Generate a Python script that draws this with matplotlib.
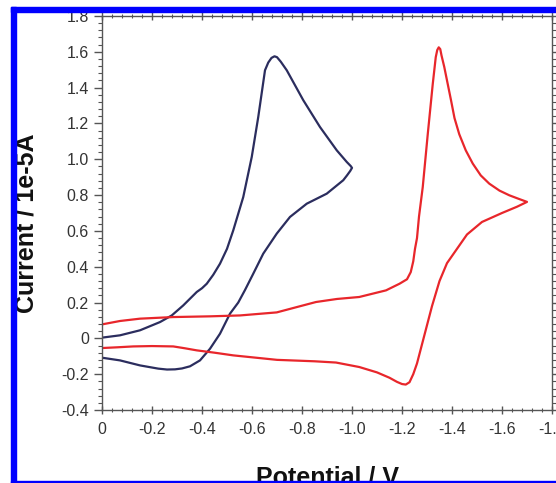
import matplotlib.pyplot as plt
from matplotlib.patches import Rectangle
from matplotlib.ticker import MultipleLocator, FuncFormatter

plt.rcParams['font.family'] = ['Liberation Sans', 'DejaVu Sans']

# blue trace: forward scan (0 -> -1.0 V) then back
blue_fwd_x = [0, -0.072, -0.152, -0.232, -0.279, -0.325, -0.379, -0.40, -0.419, -0.445, -0.472,
              -0.50, -0.525, -0.565, -0.599, -0.625, -0.652, -0.665, -0.678, -0.69, -0.70, -0.715,
              -0.739, -0.805, -0.872, -0.939, -0.979, -0.995, -1.0]
blue_fwd_y = [0.004, 0.017, 0.045, 0.091, 0.128, 0.184, 0.259, 0.28, 0.305, 0.355, 0.417,
              0.50, 0.603, 0.789, 1.013, 1.236, 1.497, 1.54, 1.566, 1.575, 1.57, 1.545,
              1.497, 1.33, 1.18, 1.05, 0.985, 0.962, 0.952]
blue_rev_x = [-1.0, -0.993, -0.98, -0.965, -0.899, -0.819, -0.752, -0.699, -0.645, -0.605, -0.572,
              -0.545, -0.512, -0.472, -0.432, -0.392, -0.352, -0.32, -0.292, -0.26, -0.225,
              -0.152, -0.072, 0]
blue_rev_y = [0.952, 0.935, 0.91, 0.883, 0.808, 0.752, 0.678, 0.585, 0.473, 0.361, 0.27,
              0.20, 0.138, 0.026, -0.058, -0.123, -0.156, -0.168, -0.173, -0.174, -0.169,
              -0.151, -0.123, -0.108]

# red trace: forward scan (0 -> -1.7 V) then back
red_fwd_x = [0, -0.072, -0.152, -0.285, -0.432, -0.552, -0.699, -0.78, -0.856, -0.94, -1.029,
             -1.136, -1.19, -1.22, -1.235, -1.245, -1.252, -1.26, -1.268, -1.283, -1.303, -1.323,
             -1.335, -1.341, -1.347, -1.353, -1.358, -1.369, -1.396, -1.41, -1.429, -1.455,
             -1.483, -1.515, -1.549, -1.59, -1.629, -1.665, -1.70]
red_fwd_y = [0.078, 0.097, 0.110, 0.119, 0.123, 0.128, 0.145, 0.175, 0.203, 0.22, 0.231,
             0.268, 0.305, 0.33, 0.37, 0.43, 0.50, 0.56, 0.68, 0.845, 1.14, 1.42,
             1.57, 1.61, 1.625, 1.615, 1.58, 1.516, 1.33, 1.23, 1.14, 1.05,
             0.976, 0.91, 0.864, 0.825, 0.799, 0.78, 0.762]
red_rev_x = [-1.70, -1.66, -1.60, -1.52, -1.46, -1.42, -1.38, -1.35, -1.32, -1.29, -1.26, -1.245,
             -1.23, -1.215, -1.20, -1.18, -1.15, -1.10, -1.029, -0.936, -0.85, -0.70, -0.525,
             -0.45, -0.379, -0.33, -0.285, -0.2, -0.125, -0.06, 0]
red_rev_y = [0.762, 0.735, 0.70, 0.65, 0.58, 0.50, 0.42, 0.32, 0.18, 0.02, -0.14, -0.20,
             -0.245, -0.258, -0.255, -0.243, -0.22, -0.19, -0.16, -0.135, -0.128, -0.12, -0.095,
             -0.08, -0.067, -0.055, -0.045, -0.043, -0.045, -0.05, -0.054]

x_ticks = [0, -0.2, -0.4, -0.6, -0.8, -1.0, -1.2, -1.4, -1.6, -1.8]
y_ticks = [-0.4, -0.2, 0, 0.2, 0.4, 0.6, 0.8, 1.0, 1.2, 1.4, 1.6, 1.8]

blue = '#2b2d5e'
red = '#e8262b'

fig, ax = plt.subplots(figsize=(5.56, 4.83), dpi=100)
fig.subplots_adjust(left=102/556, right=552/556, bottom=73/483, top=467/483)

ax.plot(blue_fwd_x + blue_rev_x, blue_fwd_y + blue_rev_y, color=blue, lw=1.6,
        solid_joinstyle='round')
ax.plot(red_fwd_x + red_rev_x, red_fwd_y + red_rev_y, color=red, lw=1.6,
        solid_joinstyle='round')

ax.set_xlim(0, -1.8)
ax.set_ylim(-0.4, 1.8)
ax.set_xticks(x_ticks)
ax.set_yticks(y_ticks)
ax.xaxis.set_minor_locator(MultipleLocator(0.04))
ax.yaxis.set_minor_locator(MultipleLocator(0.04))

fmt = FuncFormatter(lambda v, p: '0' if abs(v) < 1e-9 else f'{v:.1f}')
ax.xaxis.set_major_formatter(fmt)
ax.yaxis.set_major_formatter(fmt)

for s in ax.spines.values():
    s.set_color('#555555')
    s.set_linewidth(1)

ax.tick_params(axis='y', which='both', direction='out', left=True, right=True,
               colors='#555555', labelcolor='#333333', labelsize=11.5)
ax.tick_params(axis='x', which='both', direction='inout', bottom=True, top=True,
               colors='#555555', labelcolor='#333333', labelsize=11.5, pad=6)
ax.tick_params(which='major', length=6, width=1)
ax.tick_params(which='minor', length=3, width=0.8)

ax.set_xlabel('Potential / V', fontsize=18, fontweight='bold', color='#111111')
ax.set_ylabel('Current / 1e-5A', fontsize=18, fontweight='bold', color='#111111')
ax.xaxis.set_label_coords(0.5, -0.142)
ax.yaxis.set_label_coords(-0.142, 0.473)

# blue frame around the figure (cropped on the right)
frame = '#0000ff'
fig.add_artist(Rectangle((11/556, 0), 5/556, 476/483, transform=fig.transFigure,
                         color=frame, zorder=10))
fig.add_artist(Rectangle((11/556, 471/483), 1, 5/483, transform=fig.transFigure,
                         color=frame, zorder=10))
fig.add_artist(Rectangle((11/556, 0), 1, 2.5/483, transform=fig.transFigure,
                         color=frame, zorder=10))

fig.savefig('out.png', dpi=100)
